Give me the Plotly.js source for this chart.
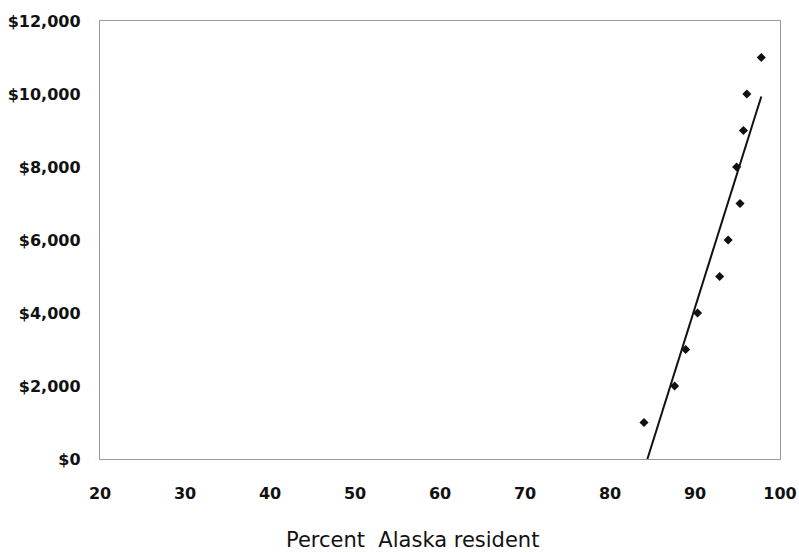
<!DOCTYPE html>
<html>
<head>
<meta charset="utf-8">
<script src="https://cdn.plot.ly/plotly-3.0.1.min.js"></script>
<style>html,body{margin:0;padding:0;background:#fff;}#chart{width:799px;height:552px;}</style>
</head>
<body>
<div id="chart"></div>
<script>
// Observed points: percent Alaska resident vs. dollar value
const pctResident = [84.0, 87.6, 88.9, 90.3, 92.9, 93.9, 95.3, 94.9, 95.7, 96.1, 97.8];
const dollars = [1000, 2000, 3000, 4000, 5000, 6000, 7000, 8000, 9000, 10000, 11000];
// Trend line end points
const trendX = [84.4, 97.8];
const trendY = [0, 9930];
const xTicks = [20, 30, 40, 50, 60, 70, 80, 90, 100];
const yTicks = [0, 2000, 4000, 6000, 8000, 10000, 12000];
const xTitle = 'Percent  Alaska resident';

const traces = [
  {x: trendX, y: trendY, mode: 'lines', type: 'scatter',
   line: {color: '#111', width: 2}, hoverinfo: 'skip'},
  {x: pctResident, y: dollars, mode: 'markers', type: 'scatter',
   marker: {symbol: 'diamond', size: 7, color: '#111'}}
];

const tickFont = {family: 'DejaVu Sans', size: 16, color: '#111', weight: 'bold'};

const layout = {
  width: 799, height: 552,
  margin: {l: 100, r: 19, t: 21, b: 93},
  paper_bgcolor: '#fff', plot_bgcolor: '#fff',
  showlegend: false,
  xaxis: {
    range: [20, 100], tickvals: xTicks, ticktext: xTicks.map(String),
    showgrid: false, zeroline: false,
    showline: true, mirror: true, linecolor: '#999', linewidth: 1.2,
    ticks: '', ticklabelstandoff: 20, tickfont: tickFont
  },
  yaxis: {
    range: [0, 12000], tickvals: yTicks,
    ticktext: yTicks.map(v => '$' + v.toLocaleString('en-US')),
    showgrid: false, zeroline: false,
    showline: true, mirror: true, linecolor: '#999', linewidth: 1.2,
    ticks: '', ticklabelstandoff: 15, tickfont: tickFont
  },
  annotations: [{
    text: xTitle, xref: 'paper', yref: 'paper', x: 0.46, y: -0.185,
    xanchor: 'center', yanchor: 'middle', showarrow: false,
    font: {family: 'DejaVu Sans', size: 21, color: '#111'}
  }]
};

Plotly.newPlot('chart', traces, layout, {displayModeBar: false, staticPlot: true});
</script>
</body>
</html>
